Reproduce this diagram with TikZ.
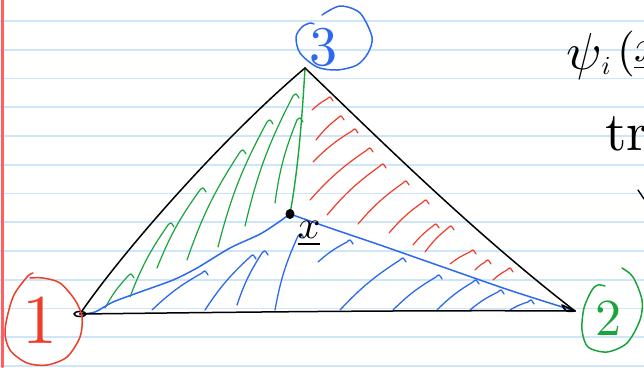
\documentclass[tikz,border=0pt]{standalone}
\usepackage{fontspec}
\definecolor{paper}{RGB}{206,231,248}
\definecolor{margin}{RGB}{255,95,95}
\definecolor{inkblue}{RGB}{45,105,240}
\definecolor{inkgreen}{RGB}{25,165,60}
\definecolor{inkred}{RGB}{238,62,42}
\newcommand\hatchstroke[3]{\draw[#1] (#2) to[bend left=7] (#3) .. controls +(3,-3) .. +(6,2);}
\begin{document}
\begin{tikzpicture}[x=1pt,y=-1pt,line cap=round,line join=round,
  paperline/.style={paper,line width=1.6pt},
  edgeline/.style={black,line width=1.5pt},
  gh/.style={inkgreen,line width=1.2pt},
  rh/.style={inkred,line width=1.2pt},
  bh/.style={inkblue,line width=1.3pt},
  txt/.style={inner sep=0pt,outer sep=0pt}]
\fill[white] (0,0) rectangle (644,367);
\useasboundingbox (0,0) rectangle (644,367);
% notebook paper
\foreach \k in {0,...,12} \draw[paperline] (0,{21+28.75*\k}) -- (644,{21+28.75*\k});
\draw[margin,line width=2.4pt] (2.5,0) -- (2.5,367);
% vertices
\coordinate (v1) at (80,314);
\coordinate (v2) at (575,311);
\coordinate (v3) at (305,68);
\coordinate (p) at (290,214);
% green hatching
\hatchstroke{gh}{245,226}{293,96}
\hatchstroke{gh}{275,203}{297,120}
\hatchstroke{gh}{218,247}{267,122}
\hatchstroke{gh}{187,260}{240,152}
\hatchstroke{gh}{157,268}{200,190}
\hatchstroke{gh}{130,297}{168,225}
\hatchstroke{gh}{105,308}{128,276}
% red hatching
\hatchstroke{rh}{312,110}{327,99}
\hatchstroke{rh}{316,140}{338,118}
\hatchstroke{rh}{313,162}{352,131}
\hatchstroke{rh}{310,200}{367,150}
\hatchstroke{rh}{327,215}{380,166}
\hatchstroke{rh}{358,224}{403,183}
\hatchstroke{rh}{389,233}{423,202}
\hatchstroke{rh}{413,245}{433,226}
\hatchstroke{rh}{425,252}{448,228}
\hatchstroke{rh}{450,264}{470,252}
\hatchstroke{rh}{475,270}{485,262}
\hatchstroke{rh}{493,280}{507,270}
% blue hatching
\hatchstroke{bh}{152,310}{202,273}
\hatchstroke{bh}{205,310}{250,257}
\hatchstroke{bh}{237,305}{262,253}
\hatchstroke{bh}{275,310}{298,236}
\hatchstroke{bh}{318,262}{347,242}
\hatchstroke{bh}{340,310}{400,260}
\hatchstroke{bh}{393,310}{436,277}
\hatchstroke{bh}{437,310}{473,282}
\hatchstroke{bh}{470,310}{498,292}
\hatchstroke{bh}{510,310}{528,302}
% division lines
\draw[inkgreen,line width=1.4pt] (v3) .. controls (302,120) and (298,170) .. (p);
\draw[inkblue,line width=1.5pt] plot[smooth] coordinates {(p) (262,233) (230,248) (197,268) (173,280) (140,292) (113,302) (95,312) (v1)};
\draw[inkblue,line width=1.5pt] plot[smooth] coordinates {(p) (330,228) (380,245) (440,266) (503,288) (540,300) (v2)};
% triangle
\draw[edgeline] (v1) .. controls (120,255) and (220,140) .. (v3);
\draw[edgeline] (v3) .. controls (370,130) and (470,230) .. (v2);
\draw[edgeline] (v1) .. controls (250,312) and (420,310) .. (v2);
\draw[edgeline] (v1) ellipse [x radius=6,y radius=2.5];
\draw[edgeline] (v2) -- (562,305) .. controls (566,312) .. (v2);
\fill[black] (p) ellipse [x radius=4.5,y radius=5];
% vertex circles
\draw[inkblue,line width=1.5pt] plot[smooth] coordinates {(322,15) (340,6) (360,13) (372,37) (368,53) (357,65) (337,70) (317,67) (300,53) (296,37) (302,27) (310,23) (314,24)};
\draw[inkred,line width=1.5pt] plot[smooth] coordinates {(33,273) (27,277) (13,297) (5,330) (10,350) (27,363) (47,365) (67,357) (80,337) (82,317) (75,300) (60,283) (43,278) (30,278)};
\draw[inkgreen,line width=1.5pt] plot[smooth] coordinates {(622,268) (633,277) (642,300) (640,320) (627,343) (607,352) (588,347) (582,330) (584,308) (592,290) (598,285) (605,286)};
% labels
\node[txt,inkblue,scale=5.6] (n3) at (323,47) {3};
\node[txt,inkred,scale=7] (n1) at (40,320) {1};
\node[txt,inkgreen,scale=5.2] (n2) at (608,318) {2};
\node[txt,scale=4] (xv) at (309,234) {$\underline{x}$};
% side notes
\node[txt,scale=5.2] (psi) at (584,56) {$\psi$};
\node[txt,scale=2.6] (sub) at (606,66) {$i$};
\node[txt,scale=4.6] (par) at (626,54) {(};
\node[txt,scale=4.5,anchor=west] (vx) at (634,56) {$\underline{x}$};
\node[txt,scale=5.5,anchor=base west] (tr) at (605,150) {tr};
\coordinate (j1) at (638,190);
\coordinate (j2) at (644,199);
\draw[black,line width=1.4pt] (j1) -- (j2);
\end{tikzpicture}
\end{document}
